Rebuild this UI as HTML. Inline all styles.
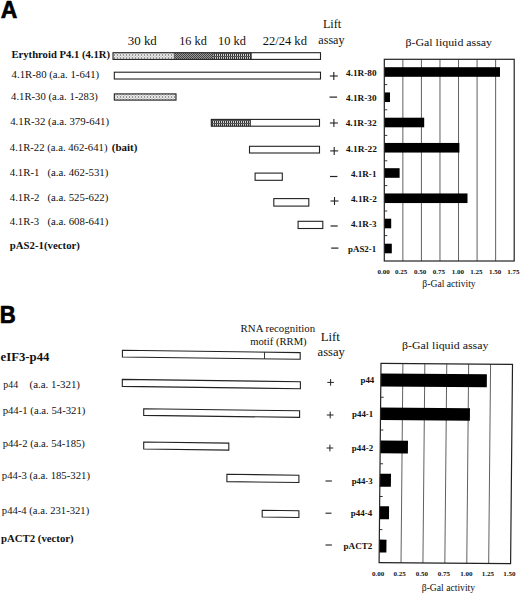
<!DOCTYPE html>
<html><head><meta charset="utf-8"><style>
html,body{margin:0;padding:0;background:#fff;}
body{width:520px;height:594px;overflow:hidden;}
svg{display:block;}
</style></head><body>
<svg width="520" height="594" viewBox="0 0 520 594">
<defs>
<pattern id="stip" x="0" y="0.5" width="3" height="3" patternUnits="userSpaceOnUse"><rect width="3" height="3" fill="#f2f2f2"/><rect x="0" y="0" width="1" height="1" fill="#3a3a3a"/><rect x="1.5" y="1.5" width="1" height="1" fill="#666"/></pattern>
<pattern id="mid" width="2" height="2" patternUnits="userSpaceOnUse"><rect width="2" height="2" fill="#9a9a9a"/><rect x="0" y="0" width="1" height="1" fill="#444"/><rect x="1" y="1" width="1" height="1" fill="#444"/></pattern>
<pattern id="grid" x="0" y="53" width="2" height="3" patternUnits="userSpaceOnUse"><rect width="2" height="3" fill="#d2d2d2"/><rect x="0" y="0" width="1" height="3" fill="#333"/><rect x="0" y="0" width="2" height="1" fill="#555"/></pattern>
<pattern id="grid2" x="0" y="120" width="2" height="3" patternUnits="userSpaceOnUse"><rect width="2" height="3" fill="#d2d2d2"/><rect x="0" y="0" width="1" height="3" fill="#333"/><rect x="0" y="0" width="2" height="1" fill="#555"/></pattern>
</defs>
<rect width="520" height="594" fill="#fff"/>
<text transform="translate(0.78,18.40) scale(0.938,1)" font-family='"Liberation Sans", sans-serif' font-weight="bold" font-size="24.49" fill="#000" stroke="#000" stroke-width="0.7" stroke-linejoin="round">A</text>
<text transform="translate(127.75,44.70)" font-family='"Liberation Serif", serif' font-weight="normal" font-size="12.92" fill="#111">30 kd</text>
<text transform="translate(179.19,44.70)" font-family='"Liberation Serif", serif' font-weight="normal" font-size="12.28" fill="#111">16 kd</text>
<text transform="translate(218.09,44.70)" font-family='"Liberation Serif", serif' font-weight="normal" font-size="12.37" fill="#111">10 kd</text>
<text transform="translate(262.64,44.50)" font-family='"Liberation Serif", serif' font-weight="normal" font-size="12.55" fill="#111">22/24 kd</text>
<text transform="translate(322.93,27.80)" font-family='"Liberation Serif", serif' font-weight="normal" font-size="12.19" fill="#111">Lift</text>
<text transform="translate(318.28,43.60)" font-family='"Liberation Serif", serif' font-weight="normal" font-size="12.14" fill="#111">assay</text>
<text transform="translate(405.43,46.00) scale(1.091,1)" font-family='"Liberation Serif", serif' font-weight="normal" font-size="10.92" fill="#111">β-Gal liquid assay</text>
<text transform="translate(11.44,58.30) scale(1.042,1)" font-family='"Liberation Serif", serif' font-weight="bold" font-size="10.23" fill="#111">Erythroid P4.1 (4.1R)</text>
<text transform="translate(11.58,77.90)" font-family='"Liberation Serif", serif' font-weight="normal" font-size="10.77" fill="#111">4.1R-80 (a.a. 1-641)</text>
<text transform="translate(11.09,99.90)" font-family='"Liberation Serif", serif' font-weight="normal" font-size="10.67" fill="#111">4.1R-30 (a.a. 1-283)</text>
<text transform="translate(10.18,124.50)" font-family='"Liberation Serif", serif' font-weight="normal" font-size="10.84" fill="#111">4.1R-32 (a.a. 379-641)</text>
<text transform="translate(9.79,150.80)" font-family='"Liberation Serif", serif' font-weight="normal" font-size="10.70" fill="#111">4.1R-22 (a.a. 462-641)</text>
<text transform="translate(111.81,150.80)" font-family='"Liberation Serif", serif' font-weight="bold" font-size="10.96" fill="#111">(bait)</text>
<text transform="translate(9.78,175.50)" font-family='"Liberation Serif", serif' font-weight="normal" font-size="10.77" fill="#111">4.1R-1</text>
<text transform="translate(47.41,175.50)" font-family='"Liberation Serif", serif' font-weight="normal" font-size="10.81" fill="#111">(a.a. 462-531)</text>
<text transform="translate(9.79,201.20)" font-family='"Liberation Serif", serif' font-weight="normal" font-size="10.75" fill="#111">4.1R-2</text>
<text transform="translate(47.41,201.20)" font-family='"Liberation Serif", serif' font-weight="normal" font-size="10.81" fill="#111">(a.a. 525-622)</text>
<text transform="translate(9.79,224.70)" font-family='"Liberation Serif", serif' font-weight="normal" font-size="10.69" fill="#111">4.1R-3</text>
<text transform="translate(47.41,224.70)" font-family='"Liberation Serif", serif' font-weight="normal" font-size="10.81" fill="#111">(a.a. 608-641)</text>
<text transform="translate(9.84,248.60)" font-family='"Liberation Serif", serif' font-weight="bold" font-size="10.79" fill="#111">pAS2-1(vector)</text>
<rect x="113" y="52.7" width="61.3" height="6.70" fill="url(#stip)"/>
<rect x="174.3" y="52.7" width="38.7" height="6.70" fill="url(#mid)"/>
<rect x="213" y="52.7" width="38.2" height="6.70" fill="url(#grid)"/>
<rect x="113.00" y="52.70" width="207.50" height="6.70" fill="none" stroke="#222" stroke-width="1.1"/>
<line x1="174.30" y1="52.70" x2="174.30" y2="59.40" stroke="#333" stroke-width="0.6"/>
<line x1="213.00" y1="52.70" x2="213.00" y2="59.40" stroke="#333" stroke-width="0.6"/>
<line x1="251.20" y1="52.70" x2="251.20" y2="59.40" stroke="#222" stroke-width="0.9"/>
<rect x="114.30" y="72.20" width="206.20" height="6.80" fill="#fff" stroke="#222" stroke-width="1.1"/>
<rect x="114.3" y="93.9" width="61.7" height="6.2" fill="url(#stip)"/>
<rect x="114.30" y="93.90" width="61.70" height="6.20" fill="none" stroke="#222" stroke-width="1.1"/>
<rect x="211.3" y="119.4" width="39" height="6.8" fill="url(#grid2)"/>
<rect x="211.30" y="119.40" width="108.20" height="6.80" fill="none" stroke="#222" stroke-width="1.1"/>
<line x1="250.30" y1="119.40" x2="250.30" y2="126.20" stroke="#222" stroke-width="0.9"/>
<rect x="249.50" y="146.30" width="70.00" height="6.70" fill="#fff" stroke="#222" stroke-width="1.1"/>
<rect x="255.10" y="173.10" width="27.20" height="7.20" fill="#fff" stroke="#222" stroke-width="1.1"/>
<rect x="273.80" y="198.60" width="35.00" height="7.50" fill="#fff" stroke="#222" stroke-width="1.1"/>
<rect x="298.10" y="221.30" width="24.70" height="7.20" fill="#fff" stroke="#222" stroke-width="1.1"/>
<line x1="329.80" y1="76.00" x2="337.80" y2="76.00" stroke="#222" stroke-width="1.1"/>
<line x1="333.80" y1="72.00" x2="333.80" y2="80.00" stroke="#222" stroke-width="1.1"/>
<line x1="329.50" y1="97.10" x2="337.10" y2="97.10" stroke="#222" stroke-width="1.2"/>
<line x1="329.90" y1="123.00" x2="337.90" y2="123.00" stroke="#222" stroke-width="1.1"/>
<line x1="333.90" y1="119.00" x2="333.90" y2="127.00" stroke="#222" stroke-width="1.1"/>
<line x1="330.20" y1="150.90" x2="338.20" y2="150.90" stroke="#222" stroke-width="1.1"/>
<line x1="334.20" y1="146.90" x2="334.20" y2="154.90" stroke="#222" stroke-width="1.1"/>
<line x1="330.00" y1="176.50" x2="337.40" y2="176.50" stroke="#222" stroke-width="1.2"/>
<line x1="330.50" y1="201.00" x2="338.50" y2="201.00" stroke="#222" stroke-width="1.1"/>
<line x1="334.50" y1="197.00" x2="334.50" y2="205.00" stroke="#222" stroke-width="1.1"/>
<line x1="330.50" y1="226.00" x2="337.70" y2="226.00" stroke="#222" stroke-width="1.2"/>
<line x1="331.20" y1="248.10" x2="338.40" y2="248.10" stroke="#222" stroke-width="1.2"/>
<text transform="translate(346.06,75.50) scale(1.077,1)" font-family='"Liberation Serif", serif' font-weight="bold" font-size="8.57" fill="#111">4.1R-80</text>
<text transform="translate(346.06,100.80) scale(1.096,1)" font-family='"Liberation Serif", serif' font-weight="bold" font-size="8.42" fill="#111">4.1R-30</text>
<text transform="translate(345.66,126.20) scale(1.104,1)" font-family='"Liberation Serif", serif' font-weight="bold" font-size="8.48" fill="#111">4.1R-32</text>
<text transform="translate(346.06,152.20) scale(1.081,1)" font-family='"Liberation Serif", serif' font-weight="bold" font-size="8.64" fill="#111">4.1R-22</text>
<text transform="translate(351.06,176.90) scale(1.106,1)" font-family='"Liberation Serif", serif' font-weight="bold" font-size="8.18" fill="#111">4.1R-1</text>
<text transform="translate(350.96,202.30) scale(1.131,1)" font-family='"Liberation Serif", serif' font-weight="bold" font-size="8.18" fill="#111">4.1R-2</text>
<text transform="translate(350.96,226.80) scale(1.074,1)" font-family='"Liberation Serif", serif' font-weight="bold" font-size="8.48" fill="#111">4.1R-3</text>
<text transform="translate(348.07,252.10) scale(1.048,1)" font-family='"Liberation Serif", serif' font-weight="bold" font-size="8.48" fill="#111">pAS2-1</text>
<line x1="402.86" y1="59.30" x2="402.86" y2="261.00" stroke="#444" stroke-width="0.85"/>
<line x1="421.41" y1="59.30" x2="421.41" y2="261.00" stroke="#444" stroke-width="0.85"/>
<line x1="439.97" y1="59.30" x2="439.97" y2="261.00" stroke="#444" stroke-width="0.85"/>
<line x1="458.53" y1="59.30" x2="458.53" y2="261.00" stroke="#444" stroke-width="0.85"/>
<line x1="477.09" y1="59.30" x2="477.09" y2="261.00" stroke="#444" stroke-width="0.85"/>
<line x1="495.64" y1="59.30" x2="495.64" y2="261.00" stroke="#444" stroke-width="0.85"/>
<rect x="384.30" y="67.20" width="115.70" height="9.6" fill="#000"/>
<rect x="384.30" y="92.45" width="5.70" height="9.6" fill="#000"/>
<rect x="384.30" y="117.70" width="39.90" height="9.6" fill="#000"/>
<rect x="384.30" y="142.95" width="75.10" height="9.6" fill="#000"/>
<rect x="384.30" y="168.20" width="15.30" height="9.6" fill="#000"/>
<rect x="384.30" y="193.45" width="83.20" height="9.6" fill="#000"/>
<rect x="384.30" y="218.70" width="6.90" height="9.6" fill="#000"/>
<rect x="384.30" y="243.70" width="7.50" height="9.6" fill="#000"/>
<line x1="384.30" y1="84.60" x2="387.30" y2="84.60" stroke="#222" stroke-width="0.9"/>
<line x1="384.30" y1="109.80" x2="387.30" y2="109.80" stroke="#222" stroke-width="0.9"/>
<line x1="384.30" y1="135.40" x2="387.30" y2="135.40" stroke="#222" stroke-width="0.9"/>
<line x1="384.30" y1="160.80" x2="387.30" y2="160.80" stroke="#222" stroke-width="0.9"/>
<line x1="384.30" y1="185.60" x2="387.30" y2="185.60" stroke="#222" stroke-width="0.9"/>
<line x1="384.30" y1="211.00" x2="387.30" y2="211.00" stroke="#222" stroke-width="0.9"/>
<line x1="384.30" y1="235.60" x2="387.30" y2="235.60" stroke="#222" stroke-width="0.9"/>
<rect x="384.30" y="59.30" width="129.90" height="201.70" fill="none" stroke="#222" stroke-width="1.2"/>
<text transform="translate(377.42,274.00)" font-family='"Liberation Serif", serif' font-weight="bold" font-size="7.00" fill="#111">0.00</text>
<text transform="translate(395.12,274.00)" font-family='"Liberation Serif", serif' font-weight="bold" font-size="7.00" fill="#111">0.25</text>
<text transform="translate(414.02,274.00)" font-family='"Liberation Serif", serif' font-weight="bold" font-size="7.00" fill="#111">0.50</text>
<text transform="translate(432.72,274.00)" font-family='"Liberation Serif", serif' font-weight="bold" font-size="7.00" fill="#111">0.75</text>
<text transform="translate(451.74,274.00)" font-family='"Liberation Serif", serif' font-weight="bold" font-size="7.00" fill="#111">1.00</text>
<text transform="translate(470.24,274.00)" font-family='"Liberation Serif", serif' font-weight="bold" font-size="7.00" fill="#111">1.25</text>
<text transform="translate(488.94,274.00)" font-family='"Liberation Serif", serif' font-weight="bold" font-size="7.00" fill="#111">1.50</text>
<text transform="translate(507.14,274.00)" font-family='"Liberation Serif", serif' font-weight="bold" font-size="7.00" fill="#111">1.75</text>
<text transform="translate(422.37,287.30)" font-family='"Liberation Serif", serif' font-weight="normal" font-size="9.64" fill="#111">β-Gal activity</text>
<text transform="translate(-0.29,323.45) scale(0.920,1)" font-family='"Liberation Sans", sans-serif' font-weight="bold" font-size="24.06" fill="#000" stroke="#000" stroke-width="0.7" stroke-linejoin="round">B</text>
<text transform="translate(240.57,332.30)" font-family='"Liberation Serif", serif' font-weight="normal" font-size="10.87" fill="#111">RNA recognition</text>
<text transform="translate(250.29,345.20)" font-family='"Liberation Serif", serif' font-weight="normal" font-size="10.63" fill="#111">motif (RRM)</text>
<text transform="translate(320.72,341.40)" font-family='"Liberation Serif", serif' font-weight="normal" font-size="12.81" fill="#111">Lift</text>
<text transform="translate(317.56,356.40)" font-family='"Liberation Serif", serif' font-weight="normal" font-size="12.56" fill="#111">assay</text>
<text transform="translate(402.03,349.40) scale(1.101,1)" font-family='"Liberation Serif", serif' font-weight="normal" font-size="10.78" fill="#111">β-Gal liquid assay</text>
<text transform="translate(0.55,360.60) scale(1.095,1)" font-family='"Liberation Serif", serif' font-weight="bold" font-size="11.67" fill="#111">eIF3-p44</text>
<text transform="translate(3.35,387.80)" font-family='"Liberation Serif", serif' font-weight="normal" font-size="9.86" fill="#111">p44</text>
<text transform="translate(29.51,387.80)" font-family='"Liberation Serif", serif' font-weight="normal" font-size="10.88" fill="#111">(a.a. 1-321)</text>
<text transform="translate(2.64,413.80)" font-family='"Liberation Serif", serif' font-weight="normal" font-size="10.73" fill="#111">p44-1 (a.a. 54-321)</text>
<text transform="translate(2.64,446.80)" font-family='"Liberation Serif", serif' font-weight="normal" font-size="10.67" fill="#111">p44-2 (a.a. 54-185)</text>
<text transform="translate(1.84,478.50)" font-family='"Liberation Serif", serif' font-weight="normal" font-size="10.72" fill="#111">p44-3 (a.a. 185-321)</text>
<text transform="translate(1.84,513.60)" font-family='"Liberation Serif", serif' font-weight="normal" font-size="10.63" fill="#111">p44-4 (a.a. 231-321)</text>
<text transform="translate(1.04,542.20)" font-family='"Liberation Serif", serif' font-weight="bold" font-size="10.77" fill="#111">pACT2 (vector)</text>
<polygon points="122.40,350.30 300.20,352.58 300.20,359.28 122.40,357.00" fill="#fff" stroke="#222" stroke-width="1.1"/>
<line x1="264.50" y1="352.12" x2="264.50" y2="358.82" stroke="#222" stroke-width="0.9"/>
<polygon points="122.30,379.40 300.40,381.68 300.40,388.68 122.30,386.40" fill="#fff" stroke="#222" stroke-width="1.1"/>
<polygon points="143.70,408.80 299.60,410.80 299.60,417.40 143.70,415.40" fill="#fff" stroke="#222" stroke-width="1.1"/>
<polygon points="143.70,442.00 228.80,443.09 228.80,450.09 143.70,449.00" fill="#fff" stroke="#222" stroke-width="1.1"/>
<polygon points="226.90,474.30 298.90,475.22 298.90,482.52 226.90,481.60" fill="#fff" stroke="#222" stroke-width="1.1"/>
<polygon points="262.20,510.30 298.90,510.77 298.90,517.47 262.20,517.00" fill="#fff" stroke="#222" stroke-width="1.1"/>
<line x1="327.30" y1="382.40" x2="333.90" y2="382.40" stroke="#222" stroke-width="1.0"/>
<line x1="330.60" y1="379.10" x2="330.60" y2="385.70" stroke="#222" stroke-width="1.0"/>
<line x1="326.80" y1="415.00" x2="333.60" y2="415.00" stroke="#222" stroke-width="1.0"/>
<line x1="330.20" y1="411.60" x2="330.20" y2="418.40" stroke="#222" stroke-width="1.0"/>
<line x1="326.55" y1="448.00" x2="333.25" y2="448.00" stroke="#222" stroke-width="1.0"/>
<line x1="329.90" y1="444.65" x2="329.90" y2="451.35" stroke="#222" stroke-width="1.0"/>
<line x1="325.50" y1="481.00" x2="331.90" y2="481.00" stroke="#222" stroke-width="1.1"/>
<line x1="325.50" y1="513.20" x2="331.50" y2="513.20" stroke="#222" stroke-width="1.1"/>
<line x1="325.50" y1="545.00" x2="331.90" y2="545.00" stroke="#222" stroke-width="1.1"/>
<text transform="translate(360.47,383.40) scale(1.149,1)" font-family='"Liberation Serif", serif' font-weight="bold" font-size="7.73" fill="#111">p44</text>
<text transform="translate(352.07,416.60) scale(1.119,1)" font-family='"Liberation Serif", serif' font-weight="bold" font-size="7.88" fill="#111">p44-1</text>
<text transform="translate(351.87,450.50) scale(1.173,1)" font-family='"Liberation Serif", serif' font-weight="bold" font-size="7.58" fill="#111">p44-2</text>
<text transform="translate(351.67,483.60) scale(1.096,1)" font-family='"Liberation Serif", serif' font-weight="bold" font-size="8.03" fill="#111">p44-3</text>
<text transform="translate(350.87,516.00) scale(1.132,1)" font-family='"Liberation Serif", serif' font-weight="bold" font-size="7.88" fill="#111">p44-4</text>
<text transform="translate(343.56,549.20) scale(1.201,1)" font-family='"Liberation Serif", serif' font-weight="bold" font-size="7.58" fill="#111">pACT2</text>
<g transform="matrix(1,0.00722,-0.00954,1,381.0,363.4)"><line x1="21.92" y1="0" x2="21.92" y2="199.20" stroke="#444" stroke-width="0.85"/><line x1="43.83" y1="0" x2="43.83" y2="199.20" stroke="#444" stroke-width="0.85"/><line x1="65.75" y1="0" x2="65.75" y2="199.20" stroke="#444" stroke-width="0.85"/><line x1="87.67" y1="0" x2="87.67" y2="199.20" stroke="#444" stroke-width="0.85"/><line x1="109.58" y1="0" x2="109.58" y2="199.20" stroke="#444" stroke-width="0.85"/><rect x="0" y="10.20" width="106.00" height="12.80" fill="#000"/><rect x="0" y="44.10" width="89.42" height="12.50" fill="#000"/><rect x="0" y="77.10" width="27.74" height="12.70" fill="#000"/><rect x="0" y="110.30" width="11.05" height="13.00" fill="#000"/><rect x="0" y="142.90" width="9.46" height="13.00" fill="#000"/><rect x="0" y="176.20" width="7.18" height="12.90" fill="#000"/><line x1="0" y1="33.85" x2="3" y2="33.85" stroke="#222" stroke-width="0.9"/><line x1="0" y1="66.60" x2="3" y2="66.60" stroke="#222" stroke-width="0.9"/><line x1="0" y1="100.35" x2="3" y2="100.35" stroke="#222" stroke-width="0.9"/><line x1="0" y1="133.10" x2="3" y2="133.10" stroke="#222" stroke-width="0.9"/><line x1="0" y1="166.20" x2="3" y2="166.20" stroke="#222" stroke-width="0.9"/><rect x="0" y="0" width="131.50" height="199.20" fill="none" stroke="#222" stroke-width="1.2"/></g>
<text transform="translate(372.02,576.00)" font-family='"Liberation Serif", serif' font-weight="bold" font-size="7.00" fill="#111">0.00</text>
<text transform="translate(393.52,576.00)" font-family='"Liberation Serif", serif' font-weight="bold" font-size="7.00" fill="#111">0.25</text>
<text transform="translate(415.72,576.00)" font-family='"Liberation Serif", serif' font-weight="bold" font-size="7.00" fill="#111">0.50</text>
<text transform="translate(437.72,576.00)" font-family='"Liberation Serif", serif' font-weight="bold" font-size="7.00" fill="#111">0.75</text>
<text transform="translate(460.24,576.00)" font-family='"Liberation Serif", serif' font-weight="bold" font-size="7.00" fill="#111">1.00</text>
<text transform="translate(481.74,576.00)" font-family='"Liberation Serif", serif' font-weight="bold" font-size="7.00" fill="#111">1.25</text>
<text transform="translate(503.24,576.00)" font-family='"Liberation Serif", serif' font-weight="bold" font-size="7.00" fill="#111">1.50</text>
<text transform="translate(421.77,591.00)" font-family='"Liberation Serif", serif' font-weight="normal" font-size="9.64" fill="#111">β-Gal activity</text>
</svg>
</body></html>
